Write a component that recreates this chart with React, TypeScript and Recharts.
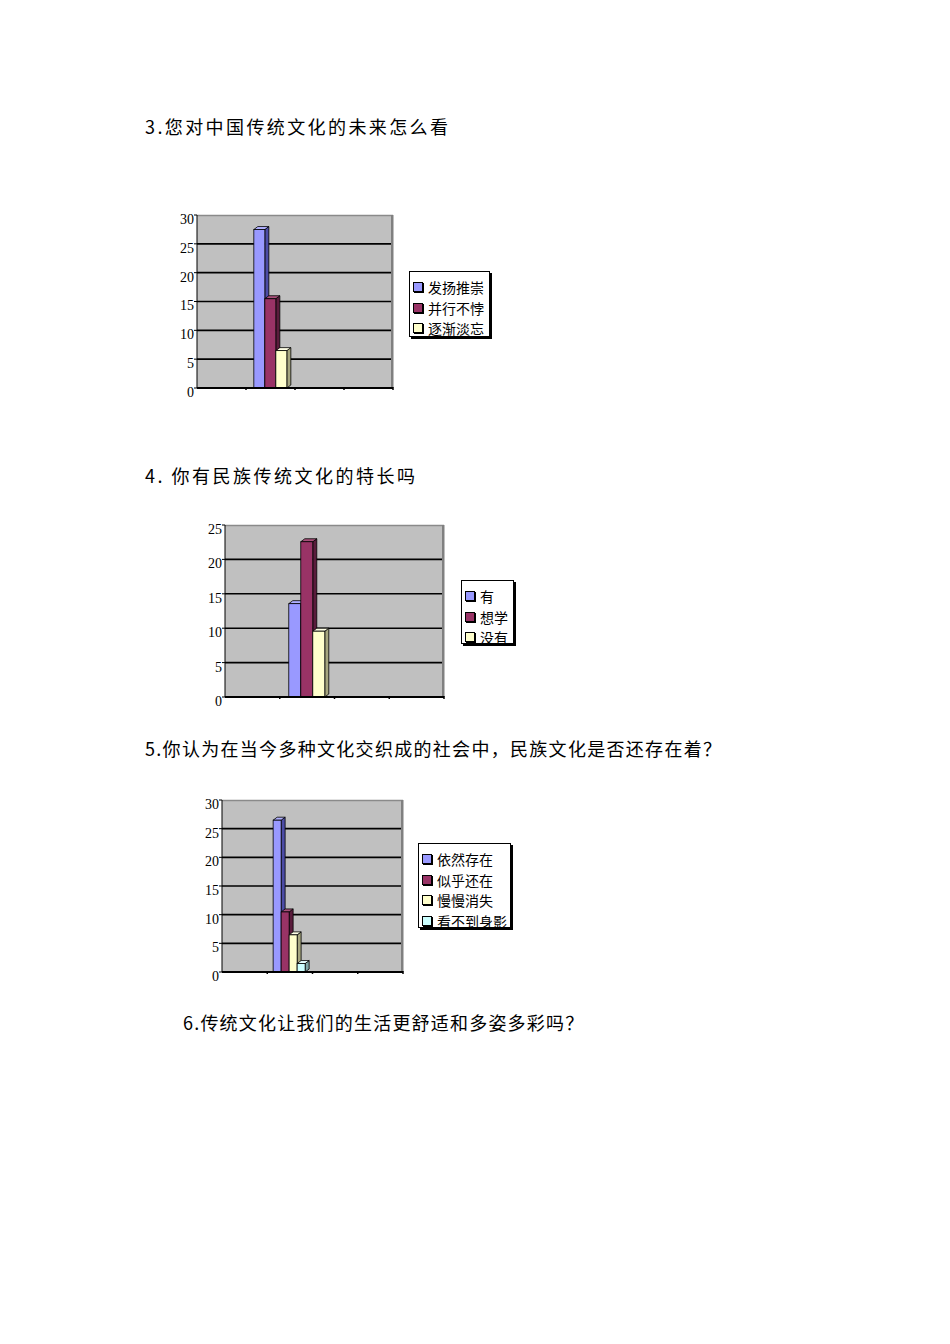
import React from 'react';
import { BarChart, Bar, XAxis, YAxis, CartesianGrid, Legend } from 'recharts';

// ---------- data ----------
const CATEGORIES = ['1', '2', '3', '4'];

const Q3_TITLE = '3.您对中国传统文化的未来怎么看';
const Q3_SERIES = ['发扬推崇', '并行不悖', '逐渐淡忘'];
const Q3_PROMOTE = [null, 28, null, null];
const Q3_COEXIST = [null, 16, null, null];
const Q3_FADE = [null, 7, null, null];
const Q3_TICKS = [0, 5, 10, 15, 20, 25, 30];

const Q4_TITLE = '4. 你有民族传统文化的特长吗';
const Q4_SERIES = ['有', '想学', '没有'];
const Q4_HAVE = [null, 14, null, null];
const Q4_WANT = [null, 23, null, null];
const Q4_NONE = [null, 10, null, null];
const Q4_TICKS = [0, 5, 10, 15, 20, 25];

const Q5_TITLE = '5.你认为在当今多种文化交织成的社会中，民族文化是否还存在着？';
const Q5_SERIES = ['依然存在', '似乎还在', '慢慢消失', '看不到身影'];
const Q5_STILL = [null, 27, null, null];
const Q5_SEEMS = [null, 11, null, null];
const Q5_FADING = [null, 7, null, null];
const Q5_GONE = [null, 2, null, null];
const Q5_TICKS = [0, 5, 10, 15, 20, 25, 30];

const Q6_TITLE = '6.传统文化让我们的生活更舒适和多姿多彩吗？';

// ---------- styles ----------
const FACE = ['#9999FF', '#993366', '#FFFFCC', '#CCFFFF'];
const SIDE = ['#4C4CA6', '#5A1C3C', '#A6A67F', '#7FA6A6'];
const TOP = ['#B0B0FF', '#A8507A', '#FFFFE6', '#E6FFFF'];
const CJK = '"Noto Sans CJK SC", "Noto Sans", sans-serif';
const Y_AXIS_W = 28;
const X_AXIS_H = 8;

type Geo = { L: number; R: number; T: number; B: number; legL: number; legT: number; legW: number; legH: number; gap: string };

const makeBar3D = (idx: number) => (props: any) => {
  const { x, y, width, height } = props;
  if (!(height > 0) || !(width > 0)) return <g />;
  const dx = 4;
  const dy = 3;
  const fy = y + dy;
  const bottom = y + height;
  return (
    <g>
      <polygon
        points={`${x + width},${fy} ${x + width + dx},${y} ${x + width + dx},${bottom - dy} ${x + width},${bottom}`}
        fill={SIDE[idx]}
        stroke="#000"
        strokeWidth={0.8}
      />
      <polygon
        points={`${x},${fy} ${x + dx},${y} ${x + width + dx},${y} ${x + width},${fy}`}
        fill={TOP[idx]}
        stroke="#000"
        strokeWidth={0.8}
      />
      <rect x={x} y={fy} width={width} height={bottom - fy} fill={FACE[idx]} stroke="#000" strokeWidth={0.8} />
    </g>
  );
};

const LegendBox = ({ series, geo }: any) => (
  <div
    style={{
      boxSizing: 'border-box',
      width: geo.legW,
      height: geo.legH,
      background: '#fff',
      border: '1px solid #000',
      boxShadow: '2px 2px 0 #000',
      paddingTop: 5,
      fontFamily: CJK,
      fontSize: 14,
      color: '#000',
    }}
  >
    {series.map((name: string, i: number) => (
      <div key={i} style={{ display: 'flex', alignItems: 'center', height: 20.5, whiteSpace: 'nowrap' }}>
        <span
          style={{
            display: 'inline-block',
            boxSizing: 'border-box',
            width: 10,
            height: 10,
            marginLeft: 3,
            marginRight: 5,
            background: FACE[i],
            border: '1px solid #000',
            boxShadow: '1px 1px 0 #000',
          }}
        />
        <span style={{ lineHeight: '20px' }}>{name}</span>
      </div>
    ))}
  </div>
);

function Chart3D({ series, values, ticks, geo }: { series: string[]; values: (number | null)[][]; ticks: number[]; geo: Geo }) {
  const data = CATEGORIES.map((c, i) => {
    const row: any = { cat: c };
    values.forEach((v, s) => {
      row['s' + s] = v[i];
    });
    return row;
  });
  const left = geo.L - Y_AXIS_W;
  const top = geo.T - 10;
  const width = geo.legL + geo.legW + 12 - left;
  const height = geo.B - top + 20;
  const margin = { top: 10, left: 0, right: width - (geo.R - left), bottom: 20 - X_AXIS_H };
  const bw = (geo.R - geo.L) / CATEGORIES.length;
  const max = ticks[ticks.length - 1];
  const pl = geo.L - left;
  const pr = geo.R - left;
  const pt = geo.T - top;
  const pb = geo.B - top;
  return (
    <div style={{ position: 'absolute', left, top, width, height }}>
      <BarChart width={width} height={height} data={data} margin={margin} barGap={0} barCategoryGap={geo.gap}>
        <CartesianGrid
          vertical={false}
          fill="#C0C0C0"
          stroke="#000"
          strokeWidth={1.6}
          horizontalValues={ticks.slice(1, -1)}
        />
        <XAxis
          dataKey="cat"
          height={X_AXIS_H}
          interval={0}
          tickSize={0}
          tickMargin={0}
          tickLine={false}
          axisLine={{ stroke: '#000', strokeWidth: 2 }}
          tick={(p: any) => (
            <line x1={p.x + bw / 2} x2={p.x + bw / 2} y1={p.y - 1} y2={p.y + 2} stroke="#000" strokeWidth={1.5} />
          )}
        />
        <YAxis
          type="number"
          domain={[0, max]}
          ticks={ticks}
          interval={0}
          width={Y_AXIS_W}
          tickSize={3}
          tickMargin={0}
          tickLine={{ stroke: '#000' }}
          axisLine={{ stroke: '#000' }}
          tick={{ fontSize: 14, fontFamily: '"Liberation Serif", serif', fill: '#000', dy: 4 }}
        />
        <g>
          <line x1={pl} x2={pr} y1={pt + 0.5} y2={pt + 0.5} stroke="#8A8A8A" strokeWidth={1.5} />
          <rect x={pr - 2} y={pt} width={2.5} height={pb - pt} fill="#808080" />
        </g>
        {series.map((name, i) => (
          <Bar
            key={name}
            dataKey={'s' + i}
            name={name}
            fill={FACE[i]}
            legendType="square"
            isAnimationActive={false}
            shape={makeBar3D(i)}
          />
        ))}
        <Legend
          layout="vertical"
          align="center"
          verticalAlign="middle"
          itemSorter="dataKey"
          wrapperStyle={{ left: geo.legL - left, top: geo.legT - top, width: geo.legW, height: geo.legH }}
          content={() => <LegendBox series={series} geo={geo} />}
        />
      </BarChart>
    </div>
  );
}

const Heading = ({ text, left, center, spacing }: { text: string; left: number; center: number; spacing: number }) => (
  <div
    style={{
      position: 'absolute',
      left,
      top: center - 13,
      lineHeight: '26px',
      fontSize: 18,
      fontFamily: CJK,
      letterSpacing: spacing,
      whiteSpace: 'nowrap',
      color: '#000',
    }}
  >
    {text}
  </div>
);

export default function App() {
  return (
    <div style={{ position: 'absolute', left: 0, top: 0, width: 950, height: 1344, background: '#fff' }}>
      <Heading text={Q3_TITLE} left={145} center={126} spacing={2.4} />
      <Chart3D
        series={Q3_SERIES}
        values={[Q3_PROMOTE, Q3_COEXIST, Q3_FADE]}
        ticks={Q3_TICKS}
        geo={{ L: 197, R: 393, T: 215, B: 388, legL: 409, legT: 271, legW: 81, legH: 66, gap: '16%' }}
      />
      <Heading text={Q4_TITLE} left={145} center={475} spacing={2.5} />
      <Chart3D
        series={Q4_SERIES}
        values={[Q4_HAVE, Q4_WANT, Q4_NONE]}
        ticks={Q4_TICKS}
        geo={{ L: 225, R: 444, T: 525, B: 697, legL: 461, legT: 580, legW: 53, legH: 64, gap: '16.5%' }}
      />
      <Heading text={Q5_TITLE} left={145} center={748} spacing={1.3} />
      <Chart3D
        series={Q5_SERIES}
        values={[Q5_STILL, Q5_SEEMS, Q5_FADING, Q5_GONE]}
        ticks={Q5_TICKS}
        geo={{ L: 222, R: 403, T: 800, B: 972, legL: 418, legT: 843, legW: 93, legH: 85, gap: '13%' }}
      />
      <Heading text={Q6_TITLE} left={183} center={1022} spacing={1.2} />
    </div>
  );
}
